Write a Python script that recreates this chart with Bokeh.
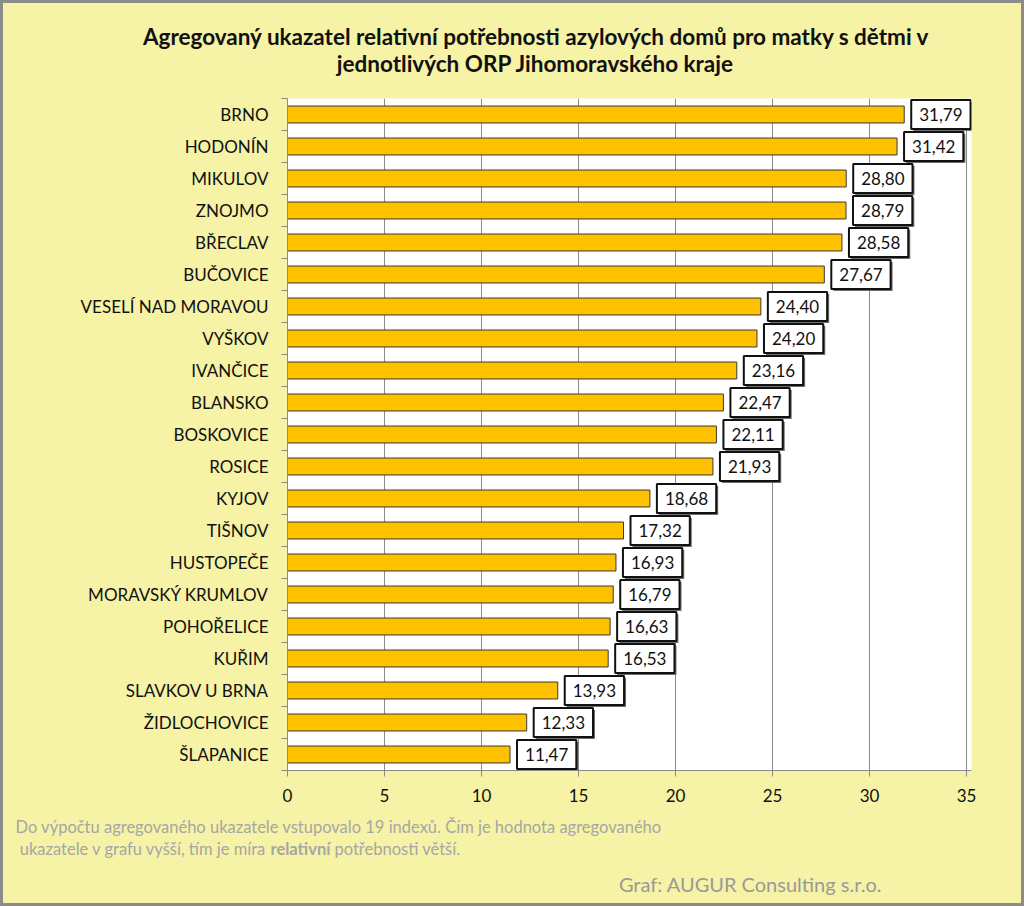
from bokeh.plotting import figure
from bokeh.layouts import column
from bokeh.models import Range1d, FixedTicker
from bokeh.embed import file_html
from bokeh.resources import INLINE
from bokeh.core.properties import value

title_lines = ["Agregovaný ukazatel relativní potřebnosti azylových domů pro matky s dětmi v",
               "jednotlivých ORP Jihomoravského kraje"]
orp = ["BRNO", "HODONÍN", "MIKULOV", "ZNOJMO", "BŘECLAV", "BUČOVICE", "VESELÍ NAD MORAVOU",
       "VYŠKOV", "IVANČICE", "BLANSKO", "BOSKOVICE", "ROSICE", "KYJOV", "TIŠNOV", "HUSTOPEČE",
       "MORAVSKÝ KRUMLOV", "POHOŘELICE", "KUŘIM", "SLAVKOV U BRNA", "ŽIDLOCHOVICE", "ŠLAPANICE"]
values = [31.79, 31.42, 28.80, 28.79, 28.58, 27.67, 24.40, 24.20, 23.16, 22.47, 22.11, 21.93,
          18.68, 17.32, 16.93, 16.79, 16.63, 16.53, 13.93, 12.33, 11.47]
x_ticks = [0, 5, 10, 15, 20, 25, 30, 35]
note_line1 = "Do výpočtu agregovaného ukazatele vstupovalo 19 indexů. Čím je hodnota agregovaného"
note_line2 = ["ukazatele v grafu vyšší, tím je míra", "relativní", "potřebnosti větší."]
credit = "Graf: AUGUR Consulting s.r.o."

FONT = "Lato"
BG = "#F6F2A6"
EDGE = "#8C8C8C"
GRID = "#8A8A8A"
W = 1024
HEAD_H, MAIN_H, FOOT_H = 90, 720, 96
FL, FR = 287, 971          # frame left/right (px); x=35 sits at 966
FRAME_H = 672
AX_MAX = 35 * (FR - FL) / (966 - FL)

n = len(orp)
idx = list(range(n))
labels = [f"{v:.2f}".replace(".", ",") for v in values]


def blank(height):
    f = figure(width=W, height=height, output_backend="svg", toolbar_location=None,
               x_range=Range1d(0, W), y_range=Range1d(height, 0),
               x_axis_location=None, y_axis_location=None, min_border=0)
    f.frame_align = False
    f.background_fill_alpha = 0
    f.border_fill_alpha = 0
    f.outline_line_color = None
    f.grid.grid_line_color = None
    return f


# ---- header with two centred title lines
head = blank(HEAD_H)
head.text(x=[536, 535], y=[36, 63], text=title_lines, text_align="center",
          text_baseline="middle", text_font=value(FONT), text_font_size="22.5px",
          text_font_style="bold", text_color="#111111")

# ---- main chart
p = figure(width=W, height=MAIN_H, output_backend="svg", toolbar_location=None,
           x_range=Range1d(0, AX_MAX), y_range=Range1d(n - 0.5, -0.5),
           min_border_left=FL, min_border_right=W - FR, min_border_top=8,
           min_border_bottom=MAIN_H - 8 - FRAME_H)
p.frame_align = False
p.border_fill_alpha = 0
p.background_fill_color = "white"
p.outline_line_color = None

p.xaxis.ticker = FixedTicker(ticks=x_ticks)
p.xaxis.axis_line_color = GRID
p.xaxis.major_tick_line_color = GRID
p.xaxis.major_tick_out = 6
p.xaxis.major_tick_in = 0
p.xaxis.minor_tick_line_color = None
p.xaxis.major_label_text_font = FONT
p.xaxis.major_label_text_font_size = "17px"
p.xaxis.major_label_text_color = "#111111"
p.xaxis.major_label_standoff = 12
p.xgrid.ticker = FixedTicker(ticks=x_ticks)
p.xgrid.grid_line_color = GRID
p.ygrid.grid_line_color = None

p.yaxis.ticker = FixedTicker(ticks=idx, minor_ticks=[i - 0.5 for i in range(n + 1)])
p.yaxis.major_label_overrides = {i: name for i, name in zip(idx, orp)}
p.yaxis.axis_line_color = GRID
p.yaxis.major_tick_line_color = None
p.yaxis.major_tick_out = 0
p.yaxis.major_tick_in = 0
p.yaxis.minor_tick_line_color = GRID
p.yaxis.minor_tick_out = 6
p.yaxis.minor_tick_in = 0
p.yaxis.major_label_text_font = FONT
p.yaxis.major_label_text_font_size = "17px"
p.yaxis.major_label_text_color = "#111111"
p.yaxis.major_label_standoff = 13

p.hbar(y=idx, left=0, right=values, height=0.53, fill_color="#FFC000",
       line_color="#3A3A3A", line_width=1)

# boxed value labels with a small shadow
p.text(x=values, y=idx, text=labels, x_offset=9, y_offset=2, text_align="left",
       text_baseline="middle", text_font=value(FONT), text_font_size="17px", text_alpha=0,
       background_fill_color="#6E6E6E", border_line_color=None, padding=8)
p.text(x=values, y=idx, text=labels, x_offset=7, text_align="left",
       text_baseline="middle", text_font=value(FONT), text_font_size="17px", text_color="#111111",
       background_fill_color="white", border_line_color="#111111", border_line_width=2, padding=8)

# ---- footer
NOTE = "#A6A6A6"
foot = blank(FOOT_H)
foot.text(x=[15], y=[16], text=[note_line1], text_align="left", text_baseline="middle",
          text_font=value(FONT), text_font_size="16.5px", text_color=NOTE)
foot.text(x=[266], y=[38], text=[note_line2[0]], text_align="right", text_baseline="middle",
          text_font=value(FONT), text_font_size="16.5px", text_color=NOTE)
foot.text(x=[300], y=[38], text=[note_line2[1]], text_align="center", text_baseline="middle",
          text_font=value(FONT), text_font_size="16.5px", text_font_style="bold", text_color=NOTE)
foot.text(x=[334], y=[38], text=[note_line2[2]], text_align="left", text_baseline="middle",
          text_font=value(FONT), text_font_size="16.5px", text_color=NOTE)
foot.text(x=[750], y=[73], text=[credit], text_align="center", text_baseline="middle",
          text_font=value(FONT), text_font_size="20px", text_color="#9A9A9A")

layout = column(head, p, foot, spacing=0)
layout.styles = {"background-color": BG, "box-shadow": f"inset 0 0 0 3px {EDGE}"}

open("out.html", "w").write(file_html(layout, INLINE))
